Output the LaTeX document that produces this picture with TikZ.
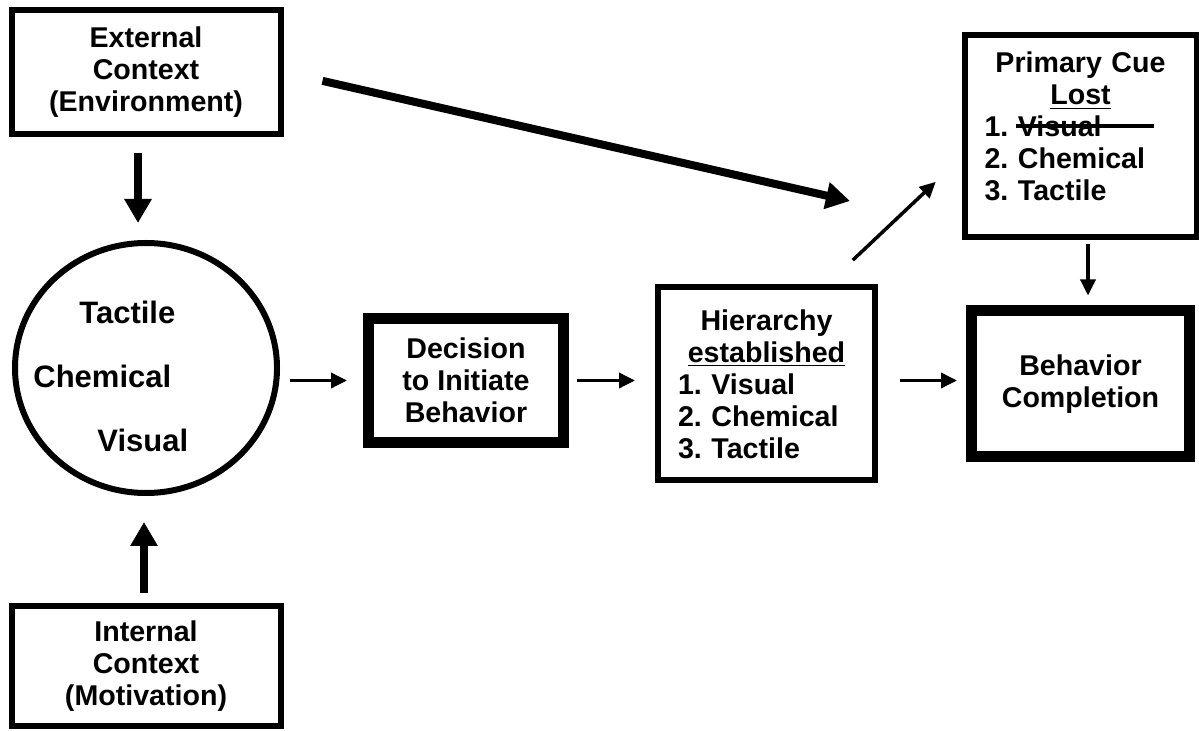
\documentclass[tikz,border=0pt]{standalone}
\usepackage{fontspec}
\setmainfont{Liberation Sans}
\usetikzlibrary{positioning,arrows.meta,shapes.geometric}
\frenchspacing

\begin{document}
\begin{tikzpicture}[x=0.5pt, y=-0.5pt, font=\fontsize{14.3}{16}\selectfont\bfseries,
  box/.style={draw=black, line width=3pt, align=center, inner sep=2pt},
  heavy/.style={box, line width=5.5pt},
  ring/.style={draw=black, ellipse, line width=3pt, minimum width=131pt, minimum height=125pt, inner sep=0pt},
  cue/.style={inner sep=0pt, font=\fontsize{15.5}{18}\selectfont\bfseries},
  arr/.style={-{Triangle[length=8pt, width=7.5pt]}, line width=1.75pt},
  bigarr/.style={-{Triangle[length=12pt, width=13pt]}, line width=4pt},
  strike/.style={line width=2pt}]
\useasboundingbox (0,0) rectangle (1199,731);
\node[box, minimum width=134.5pt, minimum height=62pt] (ext) at (146,72) {External\\Context\\(Environment)};
\node[ring, below=51.5pt of ext] (circ) {};
\node[box, minimum width=134.5pt, minimum height=60pt, below=53.5pt of circ] (int) {Internal\\Context\\(Motivation)};
\node[cue, anchor=base west] (tact) at ([shift={(-67,-44)}]circ.center) {Tactile};
\node[cue, anchor=base west] (chem) at ([shift={(-113,20)}]circ.center) {Chemical};
\node[cue, anchor=base west] (vis) at ([shift={(-49,84)}]circ.center) {Visual};
\node[heavy, minimum width=97.5pt, minimum height=62pt] (dec) at (466,380.5) {Decision\\to Initiate\\Behavior};
\node[box, text width=88.5pt, inner xsep=10pt, minimum height=96.5pt, right=43pt of dec, yshift=-1.75pt] (hier) {Hierarchy\\\underline{established}\\\makebox[88.5pt][l]{1. Visual}\\\makebox[88.5pt][l]{2. Chemical}\\\makebox[88.5pt][l]{3. Tactile}};
\node[heavy, minimum width=109pt, minimum height=73pt, right=44pt of hier] (beh) {Behavior\\Completion};
\node[box, text width=96pt, inner xsep=10pt, minimum height=101pt, above=32.5pt of beh] (prim) {Primary Cue\\\underline{Lost}\\\makebox[96pt][l]{1. Visual}\\\makebox[96pt][l]{2. Chemical}\\\makebox[96pt][l]{3. Tactile}\\[-6pt]\mbox{}};
\draw[strike] ([shift={(54,94)}]prim.north west) -- ([shift={(192,94)}]prim.north west);
\coordinate (envtip) at (850,201);
\coordinate (extfoot) at ([shift={(-8,0)}]ext.south);
\coordinate (inthead) at ([shift={(-2,0)}]int.north);
\coordinate (hiertop) at ([shift={(60.5,0)}]hier.north);
\coordinate (cueside) at ([shift={(0,21)}]prim.west);
\coordinate (cuefoot) at ([shift={(7.5,0)}]prim.south);
\draw[bigarr, shorten <=20pt] (ext.east) -- (envtip);
\draw[bigarr, shorten <=8pt, shorten >=8.5pt] (extfoot) -- (extfoot |- circ.north);
\draw[bigarr, shorten <=5pt, shorten >=13pt] (inthead) -- (inthead |- circ.south);
\draw[arr, shorten <=5pt, shorten >=8pt] (circ.east |- dec.west) -- (dec.west);
\draw[arr, shorten <=4pt, shorten >=10pt] (dec.east) -- (dec.east -| hier.west);
\draw[arr, shorten <=11pt, shorten >=4.5pt] (dec.east -| hier.east) -- (dec.east -| beh.west);
\draw[arr, shorten <=17.7pt, shorten >=17.7pt] (hiertop) -- (cueside);
\draw[arr, shorten <=2pt, shorten >=5pt] (cuefoot) -- (cuefoot |- beh.north);
\end{tikzpicture}
\end{document}
